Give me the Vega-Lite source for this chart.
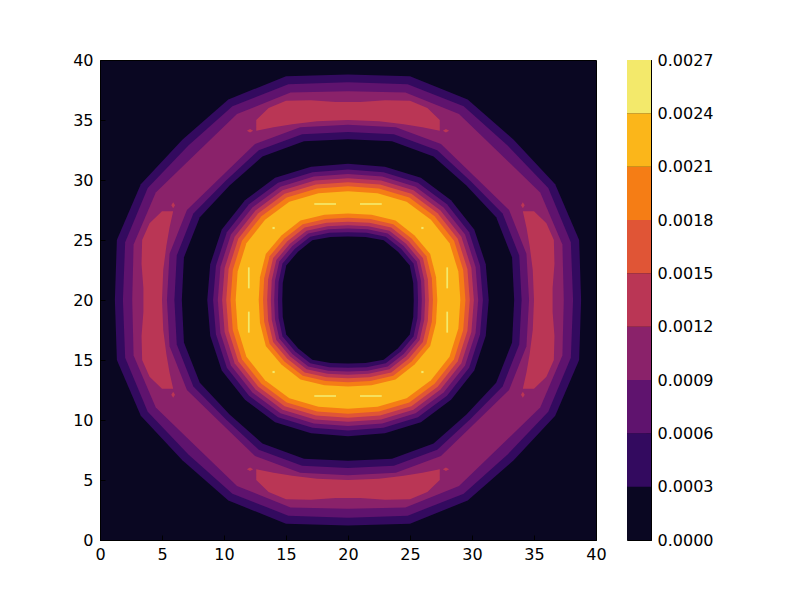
{
"$schema":"https://vega.github.io/schema/vega-lite/v6.json",
"padding":{"left":72,"top":51,"right":5,"bottom":5},
"background":"white",
"spacing":19,
"config":{
"view":{"stroke":"black","strokeWidth":1,"fill":"#0a0722"},
"axis":{"labelFont":"DejaVu Sans","labelFontSize":16,"labelColor":"black","domainColor":"black","tickColor":"black","grid":false,"title":null,"ticks":true,"tickSize":-5}
},
"datasets":{
"outer":[
{"id":"o01","v":0.0003,"x":38.8,"y":20},{"id":"o01","v":0.0003,"x":38.64,"y":25},{"id":"o01","v":0.0003,"x":36.71,"y":29.65},{"id":"o01","v":0.0003,"x":33.36,"y":33.36},{"id":"o01","v":0.0003,"x":29.65,"y":36.71},{"id":"o01","v":0.0003,"x":25,"y":38.64},{"id":"o01","v":0.0003,"x":20,"y":38.8},{"id":"o01","v":0.0003,"x":15,"y":38.64},{"id":"o01","v":0.0003,"x":10.35,"y":36.71},{"id":"o01","v":0.0003,"x":6.64,"y":33.36},{"id":"o01","v":0.0003,"x":3.29,"y":29.65},{"id":"o01","v":0.0003,"x":1.36,"y":25},{"id":"o01","v":0.0003,"x":1.2,"y":20},{"id":"o01","v":0.0003,"x":1.36,"y":15},{"id":"o01","v":0.0003,"x":3.29,"y":10.35},{"id":"o01","v":0.0003,"x":6.64,"y":6.64},{"id":"o01","v":0.0003,"x":10.35,"y":3.29},{"id":"o01","v":0.0003,"x":15,"y":1.36},{"id":"o01","v":0.0003,"x":20,"y":1.2},{"id":"o01","v":0.0003,"x":25,"y":1.36},{"id":"o01","v":0.0003,"x":29.65,"y":3.29},{"id":"o01","v":0.0003,"x":33.36,"y":6.64},{"id":"o01","v":0.0003,"x":36.71,"y":10.35},{"id":"o01","v":0.0003,"x":38.64,"y":15},
{"id":"o02","v":0.0006,"x":38.15,"y":20},{"id":"o02","v":0.0006,"x":37.97,"y":24.81},{"id":"o02","v":0.0006,"x":36.15,"y":29.33},{"id":"o02","v":0.0006,"x":32.87,"y":32.87},{"id":"o02","v":0.0006,"x":29.33,"y":36.15},{"id":"o02","v":0.0006,"x":24.81,"y":37.97},{"id":"o02","v":0.0006,"x":20,"y":38.15},{"id":"o02","v":0.0006,"x":15.19,"y":37.97},{"id":"o02","v":0.0006,"x":10.68,"y":36.15},{"id":"o02","v":0.0006,"x":7.13,"y":32.87},{"id":"o02","v":0.0006,"x":3.85,"y":29.33},{"id":"o02","v":0.0006,"x":2.03,"y":24.81},{"id":"o02","v":0.0006,"x":1.85,"y":20},{"id":"o02","v":0.0006,"x":2.03,"y":15.19},{"id":"o02","v":0.0006,"x":3.85,"y":10.68},{"id":"o02","v":0.0006,"x":7.13,"y":7.13},{"id":"o02","v":0.0006,"x":10.68,"y":3.85},{"id":"o02","v":0.0006,"x":15.19,"y":2.03},{"id":"o02","v":0.0006,"x":20,"y":1.85},{"id":"o02","v":0.0006,"x":24.81,"y":2.03},{"id":"o02","v":0.0006,"x":29.33,"y":3.85},{"id":"o02","v":0.0006,"x":32.87,"y":7.13},{"id":"o02","v":0.0006,"x":36.15,"y":10.68},{"id":"o02","v":0.0006,"x":37.97,"y":15.19},
{"id":"o03","v":0.0009,"x":37.4,"y":20},{"id":"o03","v":0.0009,"x":37.29,"y":24.63},{"id":"o03","v":0.0009,"x":35.5,"y":28.95},{"id":"o03","v":0.0009,"x":32.23,"y":32.23},{"id":"o03","v":0.0009,"x":28.95,"y":35.5},{"id":"o03","v":0.0009,"x":24.63,"y":37.29},{"id":"o03","v":0.0009,"x":20,"y":37.4},{"id":"o03","v":0.0009,"x":15.37,"y":37.29},{"id":"o03","v":0.0009,"x":11.05,"y":35.5},{"id":"o03","v":0.0009,"x":7.77,"y":32.23},{"id":"o03","v":0.0009,"x":4.5,"y":28.95},{"id":"o03","v":0.0009,"x":2.71,"y":24.63},{"id":"o03","v":0.0009,"x":2.6,"y":20},{"id":"o03","v":0.0009,"x":2.71,"y":15.37},{"id":"o03","v":0.0009,"x":4.5,"y":11.05},{"id":"o03","v":0.0009,"x":7.77,"y":7.77},{"id":"o03","v":0.0009,"x":11.05,"y":4.5},{"id":"o03","v":0.0009,"x":15.37,"y":2.71},{"id":"o03","v":0.0009,"x":20,"y":2.6},{"id":"o03","v":0.0009,"x":24.63,"y":2.71},{"id":"o03","v":0.0009,"x":28.95,"y":4.5},{"id":"o03","v":0.0009,"x":32.23,"y":7.77},{"id":"o03","v":0.0009,"x":35.5,"y":11.05},{"id":"o03","v":0.0009,"x":37.29,"y":15.37},
{"id":"o04","v":0.0006,"x":34.6,"y":20},{"id":"o04","v":0.0006,"x":34.39,"y":23.86},{"id":"o04","v":0.0006,"x":32.99,"y":27.5},{"id":"o04","v":0.0006,"x":30.25,"y":30.25},{"id":"o04","v":0.0006,"x":27.5,"y":32.99},{"id":"o04","v":0.0006,"x":23.86,"y":34.39},{"id":"o04","v":0.0006,"x":20,"y":34.6},{"id":"o04","v":0.0006,"x":16.14,"y":34.39},{"id":"o04","v":0.0006,"x":12.5,"y":32.99},{"id":"o04","v":0.0006,"x":9.75,"y":30.25},{"id":"o04","v":0.0006,"x":7.01,"y":27.5},{"id":"o04","v":0.0006,"x":5.61,"y":23.86},{"id":"o04","v":0.0006,"x":5.4,"y":20},{"id":"o04","v":0.0006,"x":5.61,"y":16.14},{"id":"o04","v":0.0006,"x":7.01,"y":12.5},{"id":"o04","v":0.0006,"x":9.75,"y":9.75},{"id":"o04","v":0.0006,"x":12.5,"y":7.01},{"id":"o04","v":0.0006,"x":16.14,"y":5.61},{"id":"o04","v":0.0006,"x":20,"y":5.4},{"id":"o04","v":0.0006,"x":23.86,"y":5.61},{"id":"o04","v":0.0006,"x":27.5,"y":7.01},{"id":"o04","v":0.0006,"x":30.25,"y":9.75},{"id":"o04","v":0.0006,"x":32.99,"y":12.5},{"id":"o04","v":0.0006,"x":34.39,"y":16.14},
{"id":"o05","v":0.0003,"x":34,"y":20},{"id":"o05","v":0.0003,"x":33.81,"y":23.7},{"id":"o05","v":0.0003,"x":32.47,"y":27.2},{"id":"o05","v":0.0003,"x":29.9,"y":29.9},{"id":"o05","v":0.0003,"x":27.2,"y":32.47},{"id":"o05","v":0.0003,"x":23.7,"y":33.81},{"id":"o05","v":0.0003,"x":20,"y":34},{"id":"o05","v":0.0003,"x":16.3,"y":33.81},{"id":"o05","v":0.0003,"x":12.8,"y":32.47},{"id":"o05","v":0.0003,"x":10.1,"y":29.9},{"id":"o05","v":0.0003,"x":7.53,"y":27.2},{"id":"o05","v":0.0003,"x":6.19,"y":23.7},{"id":"o05","v":0.0003,"x":6,"y":20},{"id":"o05","v":0.0003,"x":6.19,"y":16.3},{"id":"o05","v":0.0003,"x":7.53,"y":12.8},{"id":"o05","v":0.0003,"x":10.1,"y":10.1},{"id":"o05","v":0.0003,"x":12.8,"y":7.53},{"id":"o05","v":0.0003,"x":16.3,"y":6.19},{"id":"o05","v":0.0003,"x":20,"y":6},{"id":"o05","v":0.0003,"x":23.7,"y":6.19},{"id":"o05","v":0.0003,"x":27.2,"y":7.53},{"id":"o05","v":0.0003,"x":29.9,"y":10.1},{"id":"o05","v":0.0003,"x":32.47,"y":12.8},{"id":"o05","v":0.0003,"x":33.81,"y":16.3},
{"id":"o06","v":0,"x":33.4,"y":20},{"id":"o06","v":0,"x":33.23,"y":23.55},{"id":"o06","v":0,"x":31.95,"y":26.9},{"id":"o06","v":0,"x":29.55,"y":29.55},{"id":"o06","v":0,"x":26.9,"y":31.95},{"id":"o06","v":0,"x":23.55,"y":33.23},{"id":"o06","v":0,"x":20,"y":33.4},{"id":"o06","v":0,"x":16.45,"y":33.23},{"id":"o06","v":0,"x":13.1,"y":31.95},{"id":"o06","v":0,"x":10.45,"y":29.55},{"id":"o06","v":0,"x":8.05,"y":26.9},{"id":"o06","v":0,"x":6.77,"y":23.55},{"id":"o06","v":0,"x":6.6,"y":20},{"id":"o06","v":0,"x":6.77,"y":16.45},{"id":"o06","v":0,"x":8.05,"y":13.1},{"id":"o06","v":0,"x":10.45,"y":10.45},{"id":"o06","v":0,"x":13.1,"y":8.05},{"id":"o06","v":0,"x":16.45,"y":6.77},{"id":"o06","v":0,"x":20,"y":6.6},{"id":"o06","v":0,"x":23.55,"y":6.77},{"id":"o06","v":0,"x":26.9,"y":8.05},{"id":"o06","v":0,"x":29.55,"y":10.45},{"id":"o06","v":0,"x":31.95,"y":13.1},{"id":"o06","v":0,"x":33.23,"y":16.45},
{"id":"o07","v":0.0003,"x":31.35,"y":20},{"id":"o07","v":0.0003,"x":31.11,"y":22.98},{"id":"o07","v":0.0003,"x":30.18,"y":25.88},{"id":"o07","v":0.0003,"x":28.31,"y":28.31},{"id":"o07","v":0.0003,"x":25.88,"y":30.18},{"id":"o07","v":0.0003,"x":22.98,"y":31.11},{"id":"o07","v":0.0003,"x":20,"y":31.35},{"id":"o07","v":0.0003,"x":17.02,"y":31.11},{"id":"o07","v":0.0003,"x":14.12,"y":30.18},{"id":"o07","v":0.0003,"x":11.69,"y":28.31},{"id":"o07","v":0.0003,"x":9.82,"y":25.88},{"id":"o07","v":0.0003,"x":8.89,"y":22.98},{"id":"o07","v":0.0003,"x":8.65,"y":20},{"id":"o07","v":0.0003,"x":8.89,"y":17.02},{"id":"o07","v":0.0003,"x":9.82,"y":14.12},{"id":"o07","v":0.0003,"x":11.69,"y":11.69},{"id":"o07","v":0.0003,"x":14.12,"y":9.82},{"id":"o07","v":0.0003,"x":17.02,"y":8.89},{"id":"o07","v":0.0003,"x":20,"y":8.65},{"id":"o07","v":0.0003,"x":22.98,"y":8.89},{"id":"o07","v":0.0003,"x":25.88,"y":9.82},{"id":"o07","v":0.0003,"x":28.31,"y":11.69},{"id":"o07","v":0.0003,"x":30.18,"y":14.12},{"id":"o07","v":0.0003,"x":31.11,"y":17.02},
{"id":"o08","v":0.0006,"x":30.88,"y":20},{"id":"o08","v":0.0006,"x":30.65,"y":22.86},{"id":"o08","v":0.0006,"x":29.77,"y":25.64},{"id":"o08","v":0.0006,"x":27.98,"y":27.98},{"id":"o08","v":0.0006,"x":25.64,"y":29.77},{"id":"o08","v":0.0006,"x":22.86,"y":30.65},{"id":"o08","v":0.0006,"x":20,"y":30.88},{"id":"o08","v":0.0006,"x":17.14,"y":30.65},{"id":"o08","v":0.0006,"x":14.36,"y":29.77},{"id":"o08","v":0.0006,"x":12.02,"y":27.98},{"id":"o08","v":0.0006,"x":10.23,"y":25.64},{"id":"o08","v":0.0006,"x":9.35,"y":22.86},{"id":"o08","v":0.0006,"x":9.12,"y":20},{"id":"o08","v":0.0006,"x":9.35,"y":17.14},{"id":"o08","v":0.0006,"x":10.23,"y":14.36},{"id":"o08","v":0.0006,"x":12.02,"y":12.02},{"id":"o08","v":0.0006,"x":14.36,"y":10.23},{"id":"o08","v":0.0006,"x":17.14,"y":9.35},{"id":"o08","v":0.0006,"x":20,"y":9.12},{"id":"o08","v":0.0006,"x":22.86,"y":9.35},{"id":"o08","v":0.0006,"x":25.64,"y":10.23},{"id":"o08","v":0.0006,"x":27.98,"y":12.02},{"id":"o08","v":0.0006,"x":29.77,"y":14.36},{"id":"o08","v":0.0006,"x":30.65,"y":17.14},
{"id":"o09","v":0.0009,"x":30.5,"y":20},{"id":"o09","v":0.0009,"x":30.29,"y":22.76},{"id":"o09","v":0.0009,"x":29.44,"y":25.45},{"id":"o09","v":0.0009,"x":27.71,"y":27.71},{"id":"o09","v":0.0009,"x":25.45,"y":29.44},{"id":"o09","v":0.0009,"x":22.76,"y":30.29},{"id":"o09","v":0.0009,"x":20,"y":30.5},{"id":"o09","v":0.0009,"x":17.24,"y":30.29},{"id":"o09","v":0.0009,"x":14.55,"y":29.44},{"id":"o09","v":0.0009,"x":12.29,"y":27.71},{"id":"o09","v":0.0009,"x":10.56,"y":25.45},{"id":"o09","v":0.0009,"x":9.71,"y":22.76},{"id":"o09","v":0.0009,"x":9.5,"y":20},{"id":"o09","v":0.0009,"x":9.71,"y":17.24},{"id":"o09","v":0.0009,"x":10.56,"y":14.55},{"id":"o09","v":0.0009,"x":12.29,"y":12.29},{"id":"o09","v":0.0009,"x":14.55,"y":10.56},{"id":"o09","v":0.0009,"x":17.24,"y":9.71},{"id":"o09","v":0.0009,"x":20,"y":9.5},{"id":"o09","v":0.0009,"x":22.76,"y":9.71},{"id":"o09","v":0.0009,"x":25.45,"y":10.56},{"id":"o09","v":0.0009,"x":27.71,"y":12.29},{"id":"o09","v":0.0009,"x":29.44,"y":14.55},{"id":"o09","v":0.0009,"x":30.29,"y":17.24},
{"id":"o10","v":0.0012,"x":30.15,"y":20},{"id":"o10","v":0.0012,"x":29.95,"y":22.67},{"id":"o10","v":0.0012,"x":29.14,"y":25.28},{"id":"o10","v":0.0012,"x":27.46,"y":27.46},{"id":"o10","v":0.0012,"x":25.28,"y":29.14},{"id":"o10","v":0.0012,"x":22.67,"y":29.95},{"id":"o10","v":0.0012,"x":20,"y":30.15},{"id":"o10","v":0.0012,"x":17.33,"y":29.95},{"id":"o10","v":0.0012,"x":14.72,"y":29.14},{"id":"o10","v":0.0012,"x":12.54,"y":27.46},{"id":"o10","v":0.0012,"x":10.86,"y":25.28},{"id":"o10","v":0.0012,"x":10.05,"y":22.67},{"id":"o10","v":0.0012,"x":9.85,"y":20},{"id":"o10","v":0.0012,"x":10.05,"y":17.33},{"id":"o10","v":0.0012,"x":10.86,"y":14.72},{"id":"o10","v":0.0012,"x":12.54,"y":12.54},{"id":"o10","v":0.0012,"x":14.72,"y":10.86},{"id":"o10","v":0.0012,"x":17.33,"y":10.05},{"id":"o10","v":0.0012,"x":20,"y":9.85},{"id":"o10","v":0.0012,"x":22.67,"y":10.05},{"id":"o10","v":0.0012,"x":25.28,"y":10.86},{"id":"o10","v":0.0012,"x":27.46,"y":12.54},{"id":"o10","v":0.0012,"x":29.14,"y":14.72},{"id":"o10","v":0.0012,"x":29.95,"y":17.33},
{"id":"o11","v":0.0015,"x":29.82,"y":20},{"id":"o11","v":0.0015,"x":29.63,"y":22.58},{"id":"o11","v":0.0015,"x":28.85,"y":25.11},{"id":"o11","v":0.0015,"x":27.23,"y":27.23},{"id":"o11","v":0.0015,"x":25.11,"y":28.85},{"id":"o11","v":0.0015,"x":22.58,"y":29.63},{"id":"o11","v":0.0015,"x":20,"y":29.82},{"id":"o11","v":0.0015,"x":17.42,"y":29.63},{"id":"o11","v":0.0015,"x":14.89,"y":28.85},{"id":"o11","v":0.0015,"x":12.77,"y":27.23},{"id":"o11","v":0.0015,"x":11.15,"y":25.11},{"id":"o11","v":0.0015,"x":10.37,"y":22.58},{"id":"o11","v":0.0015,"x":10.18,"y":20},{"id":"o11","v":0.0015,"x":10.37,"y":17.42},{"id":"o11","v":0.0015,"x":11.15,"y":14.89},{"id":"o11","v":0.0015,"x":12.77,"y":12.77},{"id":"o11","v":0.0015,"x":14.89,"y":11.15},{"id":"o11","v":0.0015,"x":17.42,"y":10.37},{"id":"o11","v":0.0015,"x":20,"y":10.18},{"id":"o11","v":0.0015,"x":22.58,"y":10.37},{"id":"o11","v":0.0015,"x":25.11,"y":11.15},{"id":"o11","v":0.0015,"x":27.23,"y":12.77},{"id":"o11","v":0.0015,"x":28.85,"y":14.89},{"id":"o11","v":0.0015,"x":29.63,"y":17.42},
{"id":"o12","v":0.0018,"x":29.47,"y":20},{"id":"o12","v":0.0018,"x":29.29,"y":22.49},{"id":"o12","v":0.0018,"x":28.55,"y":24.94},{"id":"o12","v":0.0018,"x":26.98,"y":26.98},{"id":"o12","v":0.0018,"x":24.94,"y":28.55},{"id":"o12","v":0.0018,"x":22.49,"y":29.29},{"id":"o12","v":0.0018,"x":20,"y":29.47},{"id":"o12","v":0.0018,"x":17.51,"y":29.29},{"id":"o12","v":0.0018,"x":15.06,"y":28.55},{"id":"o12","v":0.0018,"x":13.02,"y":26.98},{"id":"o12","v":0.0018,"x":11.45,"y":24.94},{"id":"o12","v":0.0018,"x":10.71,"y":22.49},{"id":"o12","v":0.0018,"x":10.53,"y":20},{"id":"o12","v":0.0018,"x":10.71,"y":17.51},{"id":"o12","v":0.0018,"x":11.45,"y":15.06},{"id":"o12","v":0.0018,"x":13.02,"y":13.02},{"id":"o12","v":0.0018,"x":15.06,"y":11.45},{"id":"o12","v":0.0018,"x":17.51,"y":10.71},{"id":"o12","v":0.0018,"x":20,"y":10.53},{"id":"o12","v":0.0018,"x":22.49,"y":10.71},{"id":"o12","v":0.0018,"x":24.94,"y":11.45},{"id":"o12","v":0.0018,"x":26.98,"y":13.02},{"id":"o12","v":0.0018,"x":28.55,"y":15.06},{"id":"o12","v":0.0018,"x":29.29,"y":17.51},
{"id":"o13","v":0.0021,"x":29.06,"y":20},{"id":"o13","v":0.0021,"x":28.9,"y":22.38},{"id":"o13","v":0.0021,"x":28.19,"y":24.73},{"id":"o13","v":0.0021,"x":26.69,"y":26.69},{"id":"o13","v":0.0021,"x":24.73,"y":28.19},{"id":"o13","v":0.0021,"x":22.38,"y":28.9},{"id":"o13","v":0.0021,"x":20,"y":29.06},{"id":"o13","v":0.0021,"x":17.62,"y":28.9},{"id":"o13","v":0.0021,"x":15.27,"y":28.19},{"id":"o13","v":0.0021,"x":13.31,"y":26.69},{"id":"o13","v":0.0021,"x":11.81,"y":24.73},{"id":"o13","v":0.0021,"x":11.1,"y":22.38},{"id":"o13","v":0.0021,"x":10.94,"y":20},{"id":"o13","v":0.0021,"x":11.1,"y":17.62},{"id":"o13","v":0.0021,"x":11.81,"y":15.27},{"id":"o13","v":0.0021,"x":13.31,"y":13.31},{"id":"o13","v":0.0021,"x":15.27,"y":11.81},{"id":"o13","v":0.0021,"x":17.62,"y":11.1},{"id":"o13","v":0.0021,"x":20,"y":10.94},{"id":"o13","v":0.0021,"x":22.38,"y":11.1},{"id":"o13","v":0.0021,"x":24.73,"y":11.81},{"id":"o13","v":0.0021,"x":26.69,"y":13.31},{"id":"o13","v":0.0021,"x":28.19,"y":15.27},{"id":"o13","v":0.0021,"x":28.9,"y":17.62},
{"id":"o14","v":0.0018,"x":27.2,"y":20},{"id":"o14","v":0.0018,"x":27.1,"y":21.9},{"id":"o14","v":0.0018,"x":26.63,"y":23.83},{"id":"o14","v":0.0018,"x":25.37,"y":25.37},{"id":"o14","v":0.0018,"x":23.83,"y":26.63},{"id":"o14","v":0.0018,"x":21.9,"y":27.1},{"id":"o14","v":0.0018,"x":20,"y":27.2},{"id":"o14","v":0.0018,"x":18.1,"y":27.1},{"id":"o14","v":0.0018,"x":16.17,"y":26.63},{"id":"o14","v":0.0018,"x":14.63,"y":25.37},{"id":"o14","v":0.0018,"x":13.37,"y":23.83},{"id":"o14","v":0.0018,"x":12.9,"y":21.9},{"id":"o14","v":0.0018,"x":12.8,"y":20},{"id":"o14","v":0.0018,"x":12.9,"y":18.1},{"id":"o14","v":0.0018,"x":13.37,"y":16.17},{"id":"o14","v":0.0018,"x":14.63,"y":14.63},{"id":"o14","v":0.0018,"x":16.17,"y":13.37},{"id":"o14","v":0.0018,"x":18.1,"y":12.9},{"id":"o14","v":0.0018,"x":20,"y":12.8},{"id":"o14","v":0.0018,"x":21.9,"y":12.9},{"id":"o14","v":0.0018,"x":23.83,"y":13.37},{"id":"o14","v":0.0018,"x":25.37,"y":14.63},{"id":"o14","v":0.0018,"x":26.63,"y":16.17},{"id":"o14","v":0.0018,"x":27.1,"y":18.1},
{"id":"o15","v":0.0015,"x":26.85,"y":20},{"id":"o15","v":0.0015,"x":26.76,"y":21.81},{"id":"o15","v":0.0015,"x":26.32,"y":23.65},{"id":"o15","v":0.0015,"x":25.13,"y":25.13},{"id":"o15","v":0.0015,"x":23.65,"y":26.32},{"id":"o15","v":0.0015,"x":21.81,"y":26.76},{"id":"o15","v":0.0015,"x":20,"y":26.85},{"id":"o15","v":0.0015,"x":18.19,"y":26.76},{"id":"o15","v":0.0015,"x":16.35,"y":26.32},{"id":"o15","v":0.0015,"x":14.87,"y":25.13},{"id":"o15","v":0.0015,"x":13.68,"y":23.65},{"id":"o15","v":0.0015,"x":13.24,"y":21.81},{"id":"o15","v":0.0015,"x":13.15,"y":20},{"id":"o15","v":0.0015,"x":13.24,"y":18.19},{"id":"o15","v":0.0015,"x":13.68,"y":16.35},{"id":"o15","v":0.0015,"x":14.87,"y":14.87},{"id":"o15","v":0.0015,"x":16.35,"y":13.68},{"id":"o15","v":0.0015,"x":18.19,"y":13.24},{"id":"o15","v":0.0015,"x":20,"y":13.15},{"id":"o15","v":0.0015,"x":21.81,"y":13.24},{"id":"o15","v":0.0015,"x":23.65,"y":13.68},{"id":"o15","v":0.0015,"x":25.13,"y":14.87},{"id":"o15","v":0.0015,"x":26.32,"y":16.35},{"id":"o15","v":0.0015,"x":26.76,"y":18.19},
{"id":"o16","v":0.0012,"x":26.52,"y":20},{"id":"o16","v":0.0012,"x":26.44,"y":21.73},{"id":"o16","v":0.0012,"x":26.04,"y":23.49},{"id":"o16","v":0.0012,"x":24.89,"y":24.89},{"id":"o16","v":0.0012,"x":23.49,"y":26.04},{"id":"o16","v":0.0012,"x":21.73,"y":26.44},{"id":"o16","v":0.0012,"x":20,"y":26.52},{"id":"o16","v":0.0012,"x":18.27,"y":26.44},{"id":"o16","v":0.0012,"x":16.51,"y":26.04},{"id":"o16","v":0.0012,"x":15.11,"y":24.89},{"id":"o16","v":0.0012,"x":13.96,"y":23.49},{"id":"o16","v":0.0012,"x":13.56,"y":21.73},{"id":"o16","v":0.0012,"x":13.48,"y":20},{"id":"o16","v":0.0012,"x":13.56,"y":18.27},{"id":"o16","v":0.0012,"x":13.96,"y":16.51},{"id":"o16","v":0.0012,"x":15.11,"y":15.11},{"id":"o16","v":0.0012,"x":16.51,"y":13.96},{"id":"o16","v":0.0012,"x":18.27,"y":13.56},{"id":"o16","v":0.0012,"x":20,"y":13.48},{"id":"o16","v":0.0012,"x":21.73,"y":13.56},{"id":"o16","v":0.0012,"x":23.49,"y":13.96},{"id":"o16","v":0.0012,"x":24.89,"y":15.11},{"id":"o16","v":0.0012,"x":26.04,"y":16.51},{"id":"o16","v":0.0012,"x":26.44,"y":18.27},
{"id":"o17","v":0.0009,"x":26.22,"y":20},{"id":"o17","v":0.0009,"x":26.15,"y":21.65},{"id":"o17","v":0.0009,"x":25.78,"y":23.34},{"id":"o17","v":0.0009,"x":24.68,"y":24.68},{"id":"o17","v":0.0009,"x":23.34,"y":25.78},{"id":"o17","v":0.0009,"x":21.65,"y":26.15},{"id":"o17","v":0.0009,"x":20,"y":26.22},{"id":"o17","v":0.0009,"x":18.35,"y":26.15},{"id":"o17","v":0.0009,"x":16.66,"y":25.78},{"id":"o17","v":0.0009,"x":15.32,"y":24.68},{"id":"o17","v":0.0009,"x":14.22,"y":23.34},{"id":"o17","v":0.0009,"x":13.85,"y":21.65},{"id":"o17","v":0.0009,"x":13.78,"y":20},{"id":"o17","v":0.0009,"x":13.85,"y":18.35},{"id":"o17","v":0.0009,"x":14.22,"y":16.66},{"id":"o17","v":0.0009,"x":15.32,"y":15.32},{"id":"o17","v":0.0009,"x":16.66,"y":14.22},{"id":"o17","v":0.0009,"x":18.35,"y":13.85},{"id":"o17","v":0.0009,"x":20,"y":13.78},{"id":"o17","v":0.0009,"x":21.65,"y":13.85},{"id":"o17","v":0.0009,"x":23.34,"y":14.22},{"id":"o17","v":0.0009,"x":24.68,"y":15.32},{"id":"o17","v":0.0009,"x":25.78,"y":16.66},{"id":"o17","v":0.0009,"x":26.15,"y":18.35},
{"id":"o18","v":0.0006,"x":25.95,"y":20},{"id":"o18","v":0.0006,"x":25.89,"y":21.58},{"id":"o18","v":0.0006,"x":25.54,"y":23.2},{"id":"o18","v":0.0006,"x":24.49,"y":24.49},{"id":"o18","v":0.0006,"x":23.2,"y":25.54},{"id":"o18","v":0.0006,"x":21.58,"y":25.89},{"id":"o18","v":0.0006,"x":20,"y":25.95},{"id":"o18","v":0.0006,"x":18.42,"y":25.89},{"id":"o18","v":0.0006,"x":16.8,"y":25.54},{"id":"o18","v":0.0006,"x":15.51,"y":24.49},{"id":"o18","v":0.0006,"x":14.46,"y":23.2},{"id":"o18","v":0.0006,"x":14.11,"y":21.58},{"id":"o18","v":0.0006,"x":14.05,"y":20},{"id":"o18","v":0.0006,"x":14.11,"y":18.42},{"id":"o18","v":0.0006,"x":14.46,"y":16.8},{"id":"o18","v":0.0006,"x":15.51,"y":15.51},{"id":"o18","v":0.0006,"x":16.8,"y":14.46},{"id":"o18","v":0.0006,"x":18.42,"y":14.11},{"id":"o18","v":0.0006,"x":20,"y":14.05},{"id":"o18","v":0.0006,"x":21.58,"y":14.11},{"id":"o18","v":0.0006,"x":23.2,"y":14.46},{"id":"o18","v":0.0006,"x":24.49,"y":15.51},{"id":"o18","v":0.0006,"x":25.54,"y":16.8},{"id":"o18","v":0.0006,"x":25.89,"y":18.42},
{"id":"o19","v":0.0003,"x":25.65,"y":20},{"id":"o19","v":0.0003,"x":25.6,"y":21.5},{"id":"o19","v":0.0003,"x":25.28,"y":23.05},{"id":"o19","v":0.0003,"x":24.28,"y":24.28},{"id":"o19","v":0.0003,"x":23.05,"y":25.28},{"id":"o19","v":0.0003,"x":21.5,"y":25.6},{"id":"o19","v":0.0003,"x":20,"y":25.65},{"id":"o19","v":0.0003,"x":18.5,"y":25.6},{"id":"o19","v":0.0003,"x":16.95,"y":25.28},{"id":"o19","v":0.0003,"x":15.72,"y":24.28},{"id":"o19","v":0.0003,"x":14.72,"y":23.05},{"id":"o19","v":0.0003,"x":14.4,"y":21.5},{"id":"o19","v":0.0003,"x":14.35,"y":20},{"id":"o19","v":0.0003,"x":14.4,"y":18.5},{"id":"o19","v":0.0003,"x":14.72,"y":16.95},{"id":"o19","v":0.0003,"x":15.72,"y":15.72},{"id":"o19","v":0.0003,"x":16.95,"y":14.72},{"id":"o19","v":0.0003,"x":18.5,"y":14.4},{"id":"o19","v":0.0003,"x":20,"y":14.35},{"id":"o19","v":0.0003,"x":21.5,"y":14.4},{"id":"o19","v":0.0003,"x":23.05,"y":14.72},{"id":"o19","v":0.0003,"x":24.28,"y":15.72},{"id":"o19","v":0.0003,"x":25.28,"y":16.95},{"id":"o19","v":0.0003,"x":25.6,"y":18.5},
{"id":"o20","v":0,"x":25.3,"y":20},{"id":"o20","v":0,"x":25.26,"y":21.41},{"id":"o20","v":0,"x":24.98,"y":22.88},{"id":"o20","v":0,"x":24.03,"y":24.03},{"id":"o20","v":0,"x":22.88,"y":24.98},{"id":"o20","v":0,"x":21.41,"y":25.26},{"id":"o20","v":0,"x":20,"y":25.3},{"id":"o20","v":0,"x":18.59,"y":25.26},{"id":"o20","v":0,"x":17.12,"y":24.98},{"id":"o20","v":0,"x":15.97,"y":24.03},{"id":"o20","v":0,"x":15.02,"y":22.88},{"id":"o20","v":0,"x":14.74,"y":21.41},{"id":"o20","v":0,"x":14.7,"y":20},{"id":"o20","v":0,"x":14.74,"y":18.59},{"id":"o20","v":0,"x":15.02,"y":17.12},{"id":"o20","v":0,"x":15.97,"y":15.97},{"id":"o20","v":0,"x":17.12,"y":15.02},{"id":"o20","v":0,"x":18.59,"y":14.74},{"id":"o20","v":0,"x":20,"y":14.7},{"id":"o20","v":0,"x":21.41,"y":14.74},{"id":"o20","v":0,"x":22.88,"y":15.02},{"id":"o20","v":0,"x":24.03,"y":15.97},{"id":"o20","v":0,"x":24.98,"y":17.12},{"id":"o20","v":0,"x":25.26,"y":18.59}
],
"spots":[
{"id":"s01","v":0.0012,"x":5.0,"y":27.4},{"id":"s01","v":0.0012,"x":4.0,"y":26.4},{"id":"s01","v":0.0012,"x":3.4,"y":25.0},{"id":"s01","v":0.0012,"x":3.35,"y":23.0},{"id":"s01","v":0.0012,"x":3.5,"y":21.0},{"id":"s01","v":0.0012,"x":3.5,"y":19.0},{"id":"s01","v":0.0012,"x":3.35,"y":17.0},{"id":"s01","v":0.0012,"x":3.4,"y":15.0},{"id":"s01","v":0.0012,"x":4.0,"y":13.6},{"id":"s01","v":0.0012,"x":5.0,"y":12.6},{"id":"s01","v":0.0012,"x":5.9,"y":12.6},{"id":"s01","v":0.0012,"x":5.6,"y":14.0},{"id":"s01","v":0.0012,"x":5.35,"y":15.5},{"id":"s01","v":0.0012,"x":5.1,"y":17.5},{"id":"s01","v":0.0012,"x":5.0,"y":20},{"id":"s01","v":0.0012,"x":5.1,"y":22.5},{"id":"s01","v":0.0012,"x":5.35,"y":24.5},{"id":"s01","v":0.0012,"x":5.6,"y":26.0},{"id":"s01","v":0.0012,"x":5.9,"y":27.4},
{"id":"s02","v":0.0012,"x":35.0,"y":27.4},{"id":"s02","v":0.0012,"x":36.0,"y":26.4},{"id":"s02","v":0.0012,"x":36.6,"y":25.0},{"id":"s02","v":0.0012,"x":36.65,"y":23.0},{"id":"s02","v":0.0012,"x":36.5,"y":21.0},{"id":"s02","v":0.0012,"x":36.5,"y":19.0},{"id":"s02","v":0.0012,"x":36.65,"y":17.0},{"id":"s02","v":0.0012,"x":36.6,"y":15.0},{"id":"s02","v":0.0012,"x":36.0,"y":13.6},{"id":"s02","v":0.0012,"x":35.0,"y":12.6},{"id":"s02","v":0.0012,"x":34.1,"y":12.6},{"id":"s02","v":0.0012,"x":34.4,"y":14.0},{"id":"s02","v":0.0012,"x":34.65,"y":15.5},{"id":"s02","v":0.0012,"x":34.9,"y":17.5},{"id":"s02","v":0.0012,"x":35.0,"y":20},{"id":"s02","v":0.0012,"x":34.9,"y":22.5},{"id":"s02","v":0.0012,"x":34.65,"y":24.5},{"id":"s02","v":0.0012,"x":34.4,"y":26.0},{"id":"s02","v":0.0012,"x":34.1,"y":27.4},
{"id":"s03","v":0.0012,"x":27.4,"y":5.0},{"id":"s03","v":0.0012,"x":26.4,"y":4.0},{"id":"s03","v":0.0012,"x":25.0,"y":3.4},{"id":"s03","v":0.0012,"x":23.0,"y":3.35},{"id":"s03","v":0.0012,"x":21.0,"y":3.5},{"id":"s03","v":0.0012,"x":19.0,"y":3.5},{"id":"s03","v":0.0012,"x":17.0,"y":3.35},{"id":"s03","v":0.0012,"x":15.0,"y":3.4},{"id":"s03","v":0.0012,"x":13.6,"y":4.0},{"id":"s03","v":0.0012,"x":12.6,"y":5.0},{"id":"s03","v":0.0012,"x":12.6,"y":5.9},{"id":"s03","v":0.0012,"x":14.0,"y":5.6},{"id":"s03","v":0.0012,"x":15.5,"y":5.35},{"id":"s03","v":0.0012,"x":17.5,"y":5.1},{"id":"s03","v":0.0012,"x":20,"y":5.0},{"id":"s03","v":0.0012,"x":22.5,"y":5.1},{"id":"s03","v":0.0012,"x":24.5,"y":5.35},{"id":"s03","v":0.0012,"x":26.0,"y":5.6},{"id":"s03","v":0.0012,"x":27.4,"y":5.9},
{"id":"s04","v":0.0012,"x":27.4,"y":35.0},{"id":"s04","v":0.0012,"x":26.4,"y":36.0},{"id":"s04","v":0.0012,"x":25.0,"y":36.6},{"id":"s04","v":0.0012,"x":23.0,"y":36.65},{"id":"s04","v":0.0012,"x":21.0,"y":36.5},{"id":"s04","v":0.0012,"x":19.0,"y":36.5},{"id":"s04","v":0.0012,"x":17.0,"y":36.65},{"id":"s04","v":0.0012,"x":15.0,"y":36.6},{"id":"s04","v":0.0012,"x":13.6,"y":36.0},{"id":"s04","v":0.0012,"x":12.6,"y":35.0},{"id":"s04","v":0.0012,"x":12.6,"y":34.1},{"id":"s04","v":0.0012,"x":14.0,"y":34.4},{"id":"s04","v":0.0012,"x":15.5,"y":34.65},{"id":"s04","v":0.0012,"x":17.5,"y":34.9},{"id":"s04","v":0.0012,"x":20,"y":35.0},{"id":"s04","v":0.0012,"x":22.5,"y":34.9},{"id":"s04","v":0.0012,"x":24.5,"y":34.65},{"id":"s04","v":0.0012,"x":26.0,"y":34.4},{"id":"s04","v":0.0012,"x":27.4,"y":34.1},
{"id":"s05","v":0.0012,"x":5.9,"y":28.15},{"id":"s05","v":0.0012,"x":6.05,"y":27.9},{"id":"s05","v":0.0012,"x":5.9,"y":27.65},{"id":"s05","v":0.0012,"x":5.75,"y":27.9},
{"id":"s06","v":0.0012,"x":5.9,"y":12.35},{"id":"s06","v":0.0012,"x":6.05,"y":12.1},{"id":"s06","v":0.0012,"x":5.9,"y":11.85},{"id":"s06","v":0.0012,"x":5.75,"y":12.1},
{"id":"s07","v":0.0012,"x":34.1,"y":28.15},{"id":"s07","v":0.0012,"x":34.25,"y":27.9},{"id":"s07","v":0.0012,"x":34.1,"y":27.65},{"id":"s07","v":0.0012,"x":33.95,"y":27.9},
{"id":"s08","v":0.0012,"x":34.1,"y":12.35},{"id":"s08","v":0.0012,"x":34.25,"y":12.1},{"id":"s08","v":0.0012,"x":34.1,"y":11.85},{"id":"s08","v":0.0012,"x":33.95,"y":12.1},
{"id":"s09","v":0.0012,"x":11.85,"y":5.9},{"id":"s09","v":0.0012,"x":12.1,"y":6.05},{"id":"s09","v":0.0012,"x":12.35,"y":5.9},{"id":"s09","v":0.0012,"x":12.1,"y":5.75},
{"id":"s10","v":0.0012,"x":27.65,"y":5.9},{"id":"s10","v":0.0012,"x":27.9,"y":6.05},{"id":"s10","v":0.0012,"x":28.15,"y":5.9},{"id":"s10","v":0.0012,"x":27.9,"y":5.75},
{"id":"s11","v":0.0012,"x":11.85,"y":34.1},{"id":"s11","v":0.0012,"x":12.1,"y":34.25},{"id":"s11","v":0.0012,"x":12.35,"y":34.1},{"id":"s11","v":0.0012,"x":12.1,"y":33.95},
{"id":"s12","v":0.0012,"x":27.65,"y":34.1},{"id":"s12","v":0.0012,"x":27.9,"y":34.25},{"id":"s12","v":0.0012,"x":28.15,"y":34.1},{"id":"s12","v":0.0012,"x":27.9,"y":33.95},
{"id":"s13","v":0.0024,"x":17.28,"y":27.93},{"id":"s13","v":0.0024,"x":19.03,"y":27.93},{"id":"s13","v":0.0024,"x":19.03,"y":28.07},{"id":"s13","v":0.0024,"x":17.28,"y":28.07},
{"id":"s14","v":0.0024,"x":20.97,"y":27.93},{"id":"s14","v":0.0024,"x":22.72,"y":27.93},{"id":"s14","v":0.0024,"x":22.72,"y":28.07},{"id":"s14","v":0.0024,"x":20.97,"y":28.07},
{"id":"s15","v":0.0024,"x":17.28,"y":11.93},{"id":"s15","v":0.0024,"x":19.03,"y":11.93},{"id":"s15","v":0.0024,"x":19.03,"y":12.07},{"id":"s15","v":0.0024,"x":17.28,"y":12.07},
{"id":"s16","v":0.0024,"x":20.97,"y":11.93},{"id":"s16","v":0.0024,"x":22.72,"y":11.93},{"id":"s16","v":0.0024,"x":22.72,"y":12.07},{"id":"s16","v":0.0024,"x":20.97,"y":12.07},
{"id":"s17","v":0.0024,"x":11.93,"y":17.28},{"id":"s17","v":0.0024,"x":12.07,"y":17.28},{"id":"s17","v":0.0024,"x":12.07,"y":19.03},{"id":"s17","v":0.0024,"x":11.93,"y":19.03},
{"id":"s18","v":0.0024,"x":11.93,"y":20.97},{"id":"s18","v":0.0024,"x":12.07,"y":20.97},{"id":"s18","v":0.0024,"x":12.07,"y":22.72},{"id":"s18","v":0.0024,"x":11.93,"y":22.72},
{"id":"s19","v":0.0024,"x":27.93,"y":17.28},{"id":"s19","v":0.0024,"x":28.07,"y":17.28},{"id":"s19","v":0.0024,"x":28.07,"y":19.03},{"id":"s19","v":0.0024,"x":27.93,"y":19.03},
{"id":"s20","v":0.0024,"x":27.93,"y":20.97},{"id":"s20","v":0.0024,"x":28.07,"y":20.97},{"id":"s20","v":0.0024,"x":28.07,"y":22.72},{"id":"s20","v":0.0024,"x":27.93,"y":22.72},
{"id":"s21","v":0.0024,"x":13.91,"y":25.91},{"id":"s21","v":0.0024,"x":14.09,"y":25.91},{"id":"s21","v":0.0024,"x":14.09,"y":26.09},{"id":"s21","v":0.0024,"x":13.91,"y":26.09},
{"id":"s22","v":0.0024,"x":25.91,"y":25.91},{"id":"s22","v":0.0024,"x":26.09,"y":25.91},{"id":"s22","v":0.0024,"x":26.09,"y":26.09},{"id":"s22","v":0.0024,"x":25.91,"y":26.09},
{"id":"s23","v":0.0024,"x":13.91,"y":13.91},{"id":"s23","v":0.0024,"x":14.09,"y":13.91},{"id":"s23","v":0.0024,"x":14.09,"y":14.09},{"id":"s23","v":0.0024,"x":13.91,"y":14.09},
{"id":"s24","v":0.0024,"x":25.91,"y":13.91},{"id":"s24","v":0.0024,"x":26.09,"y":13.91},{"id":"s24","v":0.0024,"x":26.09,"y":14.09},{"id":"s24","v":0.0024,"x":25.91,"y":14.09}
],
"bar":[
{"lo":0,"hi":0.0003},{"lo":0.0003,"hi":0.0006},{"lo":0.0006,"hi":0.0009},{"lo":0.0009,"hi":0.0012},{"lo":0.0012,"hi":0.0015},{"lo":0.0015,"hi":0.0018},{"lo":0.0018,"hi":0.0021},{"lo":0.0021,"hi":0.0024},{"lo":0.0024,"hi":0.0027}
]
},
"hconcat":[
{
"width":496,"height":480,
"encoding":{
"x":{"field":"x","type":"quantitative","scale":{"domain":[0,40],"nice":false,"zero":false},"axis":{"values":[0,5,10,15,20,25,30,35,40],"labelFlush":false,"labelPadding":11}},
"y":{"field":"y","type":"quantitative","scale":{"domain":[0,40],"nice":false,"zero":false},"axis":{"values":[0,5,10,15,20,25,30,35,40],"labelPadding":12}},
"fill":{"field":"v","type":"quantitative","scale":{"type":"threshold","domain":[0.0003,0.0006,0.0009,0.0012,0.0015,0.0018,0.0021,0.0024],"range":["#0a0722","#330a5f","#5f136e","#8a226a","#ba3655","#e05536","#f57d15","#fbb61a","#f3e96b"]},"legend":null},
"detail":{"field":"id","type":"nominal"},
"order":{"value":null}
},
"layer":[
{"data":{"name":"outer"},"mark":{"type":"line","interpolate":"linear-closed","stroke":null,"strokeWidth":0}},
{"data":{"name":"spots"},"mark":{"type":"line","interpolate":"linear-closed","stroke":null,"strokeWidth":0}}
]
},
{
"width":24,"height":480,
"data":{"name":"bar"},
"mark":{"type":"rect"},
"encoding":{
"y":{"field":"lo","type":"quantitative","scale":{"domain":[0,0.0027],"nice":false,"zero":false},"axis":{"orient":"right","values":[0,0.0003,0.0006,0.0009,0.0012,0.0015,0.0018,0.0021,0.0024,0.0027],"format":".4f","labelPadding":11}},
"y2":{"field":"hi"},
"fill":{"field":"lo","type":"quantitative","scale":{"type":"threshold","domain":[0.0003,0.0006,0.0009,0.0012,0.0015,0.0018,0.0021,0.0024],"range":["#0a0722","#330a5f","#5f136e","#8a226a","#ba3655","#e05536","#f57d15","#fbb61a","#f3e96b"]},"legend":null}
}
}
]
}
